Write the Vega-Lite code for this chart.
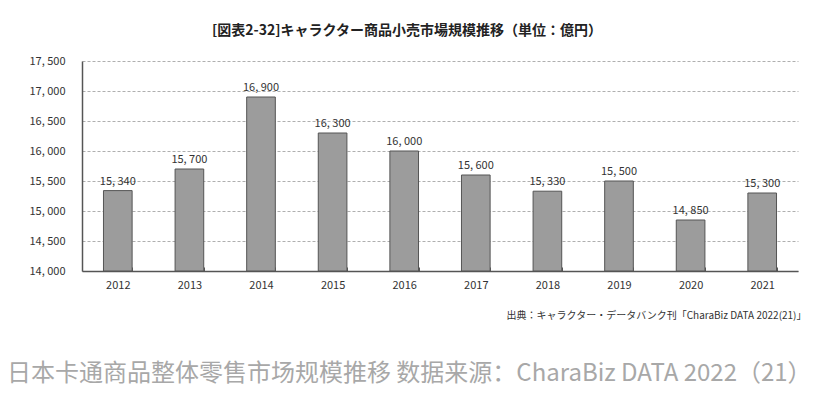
{
  "$schema": "https://vega.github.io/schema/vega-lite/v6.json",
  "background": "white",
  "padding": {"left": 6, "top": 24, "right": 0, "bottom": 0},
  "title": {
    "text": "日本卡通商品整体零售市场规模推移 数据来源：CharaBiz DATA 2022（21）",
    "orient": "bottom",
    "anchor": "start",
    "frame": "bounds",
    "font": "Noto Sans CJK SC",
    "fontSize": 24,
    "fontWeight": "normal",
    "color": "#a8a8a8",
    "offset": 42,
    "dx": -22
  },
  "data": {
    "values": [
      {"year": "2012", "value": 15340},
      {"year": "2013", "value": 15700},
      {"year": "2014", "value": 16900},
      {"year": "2015", "value": 16300},
      {"year": "2016", "value": 16000},
      {"year": "2017", "value": 15600},
      {"year": "2018", "value": 15330},
      {"year": "2019", "value": 15500},
      {"year": "2020", "value": 14850},
      {"year": "2021", "value": 15300}
    ]
  },
  "vconcat": [
    {
      "width": 716,
      "height": 210,
      "title": {
        "text": "[図表2-32]キャラクター商品小売市場規模推移（単位：億円）",
        "font": "Noto Sans CJK JP",
        "fontSize": 14,
        "fontWeight": "bold",
        "color": "#222222",
        "offset": 17,
        "dx": -33
      },
      "transform": [
        {"calculate": "replace(format(datum.value, ','), ',', ', ')", "as": "label"}
      ],
      "encoding": {
        "x": {
          "field": "year",
          "type": "ordinal",
          "scale": {"paddingInner": 0.6, "paddingOuter": 0.3},
          "axis": {
            "title": "出典：キャラクター・データバンク刊「CharaBiz DATA 2022(21)」",
            "titleAnchor": "end",
            "titleFont": "Noto Sans CJK JP",
            "titleFontSize": 10,
            "titleFontWeight": "normal",
            "titleColor": "#333333",
            "titlePadding": 20,
            "titleX": 724,
            "labelAngle": 0,
            "labelFont": "Noto Sans CJK JP",
            "labelFontSize": 11,
            "labelColor": "#333333",
            "labelPadding": 12,
            "domainColor": "#555555",
            "domainWidth": 1.5,
            "tickBand": "extent",
            "tickSize": -4,
            "tickColor": "#555555"
          }
        },
        "y": {
          "field": "value",
          "type": "quantitative",
          "scale": {"domain": [14000, 17500], "zero": false, "nice": false},
          "axis": {
            "title": null,
            "values": [14000, 14500, 15000, 15500, 16000, 16500, 17000, 17500],
            "labelExpr": "replace(format(datum.value, ','), ',', ', ')",
            "labelFont": "Noto Sans CJK JP",
            "labelFontSize": 11,
            "labelColor": "#333333",
            "labelPadding": 17,
            "ticks": false,
            "domainColor": "#555555",
            "domainWidth": 1.5,
            "gridColor": "#9a9a9a",
            "gridDash": [3, 2],
            "gridWidth": 0.8
          }
        }
      },
      "layer": [
        {
          "mark": {"type": "bar", "color": "#9c9c9c", "stroke": "#555555", "strokeWidth": 1},
          "encoding": {"y2": {"datum": 14000}}
        },
        {
          "mark": {"type": "text", "dy": -9, "font": "Noto Sans CJK JP", "fontSize": 11, "color": "#333333"},
          "encoding": {"text": {"field": "label"}}
        }
      ]
    }
  ],
  "config": {"view": {"stroke": null}}
}
